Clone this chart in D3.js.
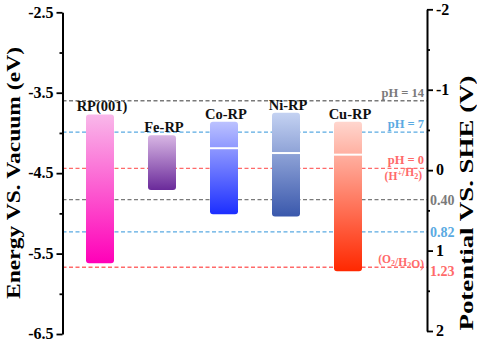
<!DOCTYPE html>
<html><head><meta charset="utf-8">
<script src="https://cdn.jsdelivr.net/npm/d3@7"></script>
<style>
body{margin:0;background:#fff}
svg{display:block}
text{font-family:"Liberation Serif","Times New Roman",serif;font-weight:bold}
</style>
</head><body>
<svg id="chart" width="477" height="340"></svg>
<script>
// ---- data ----
const categories = ["RP(001)", "Fe-RP", "Co-RP", "Ni-RP", "Cu-RP"];
const bandTop    = [-3.77, -4.03, -3.86, -3.75, -3.86];
const bandBottom = [-5.62, -4.71, -5.01, -5.04, -5.72];
const splitLevel = [null, null, -4.19, -4.25, -4.27];
const colorTop    = ["#f9b8ea", "#d8b6e4", "#bcc2ff", "#c4d2f2", "#ffd6ce"];
const colorBottom = ["#ff00b8", "#6a2a9a", "#1c2eff", "#3a58ac", "#ff2800"];
const leftTicks  = [-2.5, -3.5, -4.5, -5.5, -6.5];
const leftMinor  = [-3.0, -4.0, -5.0, -6.0];
const rightTicks = [-2, -1, 0, 1, 2];
const rightMinor = [-1.5, -0.5, 0.5, 1.5];
const refLevels  = [-3.60, -3.99, -4.44, -4.83, -5.23, -5.67];
const refColors  = ["#7a7a7a", "#5aaae2", "#ff6a6a", "#7a7a7a", "#5aaae2", "#ff6a6a"];
const refInner   = ["pH = 14", "pH = 7", "pH = 0", "", "", "(O2/H2O)"];
const refSub     = ["", "", "(H+/H2)", "", "", ""];
const refOuter   = ["", "", "", "0.40", "0.82", "1.23"];

// ---- layout ----
const svg = d3.select("#chart");
const xL = 62.5, xR = 427;
const yL = d3.scaleLinear().domain([-2.5, -6.5]).range([12.3, 334]);
const yR = d3.scaleLinear().domain([-2, 2]).range([9.3, 331]);
const x = d3.scalePoint().domain(categories).range([100, 348]);
const barW = 28;

// gradients
const defs = svg.append("defs");
categories.forEach((c, i) => {
  const g = defs.append("linearGradient").attr("id", "g" + i)
    .attr("x1", 0).attr("y1", 0).attr("x2", 0).attr("y2", 1);
  g.append("stop").attr("offset", "0%").attr("stop-color", colorTop[i]);
  g.append("stop").attr("offset", "100%").attr("stop-color", colorBottom[i]);
});

// reference dashed lines
svg.append("g").selectAll("line").data(refLevels).join("line")
  .attr("x1", xL).attr("x2", xR)
  .attr("y1", d => yL(d)).attr("y2", d => yL(d))
  .attr("stroke", (d, i) => refColors[i])
  .attr("stroke-width", 1.3)
  .attr("stroke-dasharray", "4,2.5");

// bars
const bars = svg.append("g");
categories.forEach((c, i) => {
  bars.append("rect")
    .attr("x", x(c) - barW / 2).attr("width", barW)
    .attr("y", yL(bandTop[i])).attr("height", yL(bandBottom[i]) - yL(bandTop[i]))
    .attr("rx", 3).attr("ry", 3)
    .attr("fill", `url(#g${i})`);
  if (splitLevel[i] !== null) {
    bars.append("line")
      .attr("x1", x(c) - barW / 2).attr("x2", x(c) + barW / 2)
      .attr("y1", yL(splitLevel[i])).attr("y2", yL(splitLevel[i]))
      .attr("stroke", "#fff").attr("stroke-width", 2);
  }
  bars.append("text")
    .attr("x", x(c) + 2).attr("y", yL(bandTop[i]) - 3)
    .attr("text-anchor", "middle").attr("font-size", 14.5).attr("fill", "#111")
    .text(c);
});

// helper for chemistry labels with sub/superscript
function chem(sel, str) {
  const parts = str.split(/(\d|\+)/);
  parts.forEach(p => {
    if (p === "") return;
    if (p === "+") {
      sel.append("tspan").attr("font-size", "70%").attr("dy", -4).text("+");
      sel.append("tspan").attr("dy", 4).text("");
    } else if (/\d/.test(p)) {
      sel.append("tspan").attr("font-size", "70%").attr("dy", 2.5).text(p);
      sel.append("tspan").attr("dy", -2.5).text("");
    } else sel.append("tspan").text(p);
  });
}

// reference labels
const lab = svg.append("g");
refLevels.forEach((v, i) => {
  const y = yL(v);
  if (refInner[i]) {
    const isChem = refInner[i].startsWith("(");
    const t = lab.append("text").attr("x", xR - 3).attr("y", y - 4)
      .attr("text-anchor", "end").attr("fill", refColors[i])
      .attr("font-size", isChem ? 11.5 : 12.5);
    if (isChem) chem(t, refInner[i]); else t.text(refInner[i]);
  }
  if (refSub[i]) {
    const t = lab.append("text").attr("x", xR - 5).attr("y", y + 12)
      .attr("text-anchor", "end").attr("fill", refColors[i]).attr("font-size", 11.5);
    chem(t, refSub[i]);
  }
  if (refOuter[i]) {
    lab.append("text").attr("x", xR + 3).attr("y", y + 5 + (i === 5 ? 4 : 0))
      .attr("fill", refColors[i]).attr("font-size", 14).text(refOuter[i]);
  }
});

function styleAxis(ax) {
  ax.selectAll(".domain").attr("stroke", "#000").attr("stroke-width", 2);
  ax.selectAll(".tick line").attr("stroke", "#000").attr("stroke-width", 1.8);
  ax.selectAll(".tick text").attr("font-size", 16).attr("fill", "#000")
    .attr("dy", "0.3em")
    .attr("font-family", '"Liberation Serif",serif').attr("font-weight", "bold");
}

// left axis
const axL = svg.append("g").attr("transform", `translate(${xL},0)`)
  .call(d3.axisLeft(yL).tickValues(leftTicks).tickSize(6).tickSizeOuter(0)
    .tickFormat(d => d3.format(".1f")(d).replace("−", "-")));
styleAxis(axL);
const axLm = svg.append("g").attr("transform", `translate(${xL},0)`)
  .call(d3.axisLeft(yL).tickValues(leftMinor).tickSize(3).tickFormat(() => ""));
axLm.select(".domain").remove();
axLm.selectAll(".tick line").attr("stroke", "#000").attr("stroke-width", 1.8);

// right axis
const axR = svg.append("g").attr("transform", `translate(${xR},0)`)
  .call(d3.axisRight(yR).tickValues(rightTicks).tickSize(6).tickSizeOuter(0)
    .tickFormat(d => String(d)));
styleAxis(axR);
const axRm = svg.append("g").attr("transform", `translate(${xR},0)`)
  .call(d3.axisRight(yR).tickValues(rightMinor).tickSize(3).tickFormat(() => ""));
axRm.select(".domain").remove();
axRm.selectAll(".tick line").attr("stroke", "#000").attr("stroke-width", 1.8);

// axis titles
svg.append("text").attr("transform", `translate(20,173) rotate(-90)`)
  .attr("text-anchor", "middle").attr("font-size", 19).attr("fill", "#000")
  .attr("textLength", 252).attr("lengthAdjust", "spacingAndGlyphs")
  .text("Energy VS. Vacuum (eV)");
svg.append("text").attr("transform", `translate(473,203) rotate(-90)`)
  .attr("text-anchor", "middle").attr("font-size", 19).attr("fill", "#000")
  .attr("textLength", 255).attr("lengthAdjust", "spacingAndGlyphs")
  .text("Potential VS. SHE (V)");
</script>
</body></html>
